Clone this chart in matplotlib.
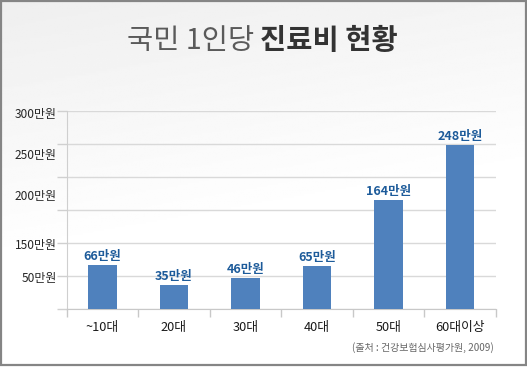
import numpy as np
import matplotlib
matplotlib.use('Agg')
import matplotlib.pyplot as plt
from matplotlib.patches import Rectangle

plt.rcParams['font.family'] = ['Noto Sans CJK KR', 'DejaVu Sans']

# data
categories = ['~10대', '20대', '30대', '40대', '50대', '60대이상']
values = [66, 35, 46, 65, 164, 248]
value_labels = ['66만원', '35만원', '46만원', '65만원', '164만원', '248만원']
# y labels sit where the original picture puts them (not on every gridline)
ytick_pos = [296, 234, 172, 97, 48]
ytick_labels = ['300만원', '250만원', '200만원', '150만원', '50만원']
grid_pos = [0, 50, 100, 150, 200, 250, 300]
title_light = '국민 1인당'
title_bold = '진료비 현황'
source = '(출처 : 건강보험심사평가원, 2009)'

W, H = 527, 368
fig = plt.figure(figsize=(W / 100, H / 100), dpi=100)
fig.patch.set_facecolor('white')

# soft grey gradient in the background
bg = fig.add_axes([0, 0, 1, 1], zorder=-5)
yy, xx = np.mgrid[0:1:200j, 0:1:200j]
shade = np.clip(1 - (yy * 1.4 + xx * 0.35), 0, 1)
img = 1 - 0.065 * shade
bg.imshow(img, cmap='gray', vmin=0, vmax=1, extent=[0, 1, 0, 1],
          origin='upper', aspect='auto')
bg.set_xlim(0, 1)
bg.set_ylim(0, 1)
bg.axis('off')

# outer frame
fig.patches.append(Rectangle((1 / W, 3 / H), 525 / W, 364 / H, transform=fig.transFigure,
                             fill=False, edgecolor='#858585', linewidth=1.6, zorder=10))

ax = fig.add_axes([66.7 / W, 59.5 / H, 429 / W, 198 / H])
ax.set_facecolor('none')
x = np.arange(len(categories))
ax.bar(x, values, width=0.4, color='#4f81bd', zorder=3)

for xi, v, lab in zip(x, values, value_labels):
    ax.annotate(lab, (xi, v), xytext=(0, 1.5), textcoords='offset points',
                ha='center', va='bottom', fontsize=9, fontweight='bold',
                color='#1d5b9a')

ax.set_xlim(-0.5, len(categories) - 0.5)
ax.set_ylim(0, 300)

ax.set_xticks(x)
ax.set_xticklabels(categories, fontsize=9.2, color='#1a1a1a')
ax.set_xticks(np.arange(len(categories) + 1) - 0.5, minor=True)
ax.tick_params(axis='x', which='major', length=0, pad=9)
ax.tick_params(axis='x', which='minor', length=6, color='#c8c8c8', width=1)

ax.yaxis.remove_overlapping_locs = False
ax.set_yticks(ytick_pos)
ax.set_yticklabels(ytick_labels, fontsize=8.6, color='#262626', fontweight='medium')
ax.set_yticks(grid_pos, minor=True)
ax.tick_params(axis='y', which='major', length=0, pad=7)
ax.tick_params(axis='y', which='minor', length=7, color='#d0d0d0', width=1)
ax.yaxis.grid(True, which='minor', color='#d9d9d9', linewidth=1, zorder=0)
ax.yaxis.grid(False, which='major')
ax.set_axisbelow(True)

for s in ['top', 'right']:
    ax.spines[s].set_visible(False)
ax.spines['left'].set_color('#cfcfcf')
ax.spines['bottom'].set_color('#c8c8c8')

# title: light part + bold part
fig.text(254 / W, 1 - 41 / H, title_light, ha='right', va='center',
         fontsize=20.5, color='#5a5a5a', fontweight='light')
fig.text(260 / W, 1 - 41 / H, title_bold, ha='left', va='center',
         fontsize=20.5, color='#333333', fontweight='bold')

fig.text(494 / W, 1 - 348 / H, source, ha='right', va='center',
         fontsize=7.2, color='#666666')

fig.savefig('out.png', dpi=100)
